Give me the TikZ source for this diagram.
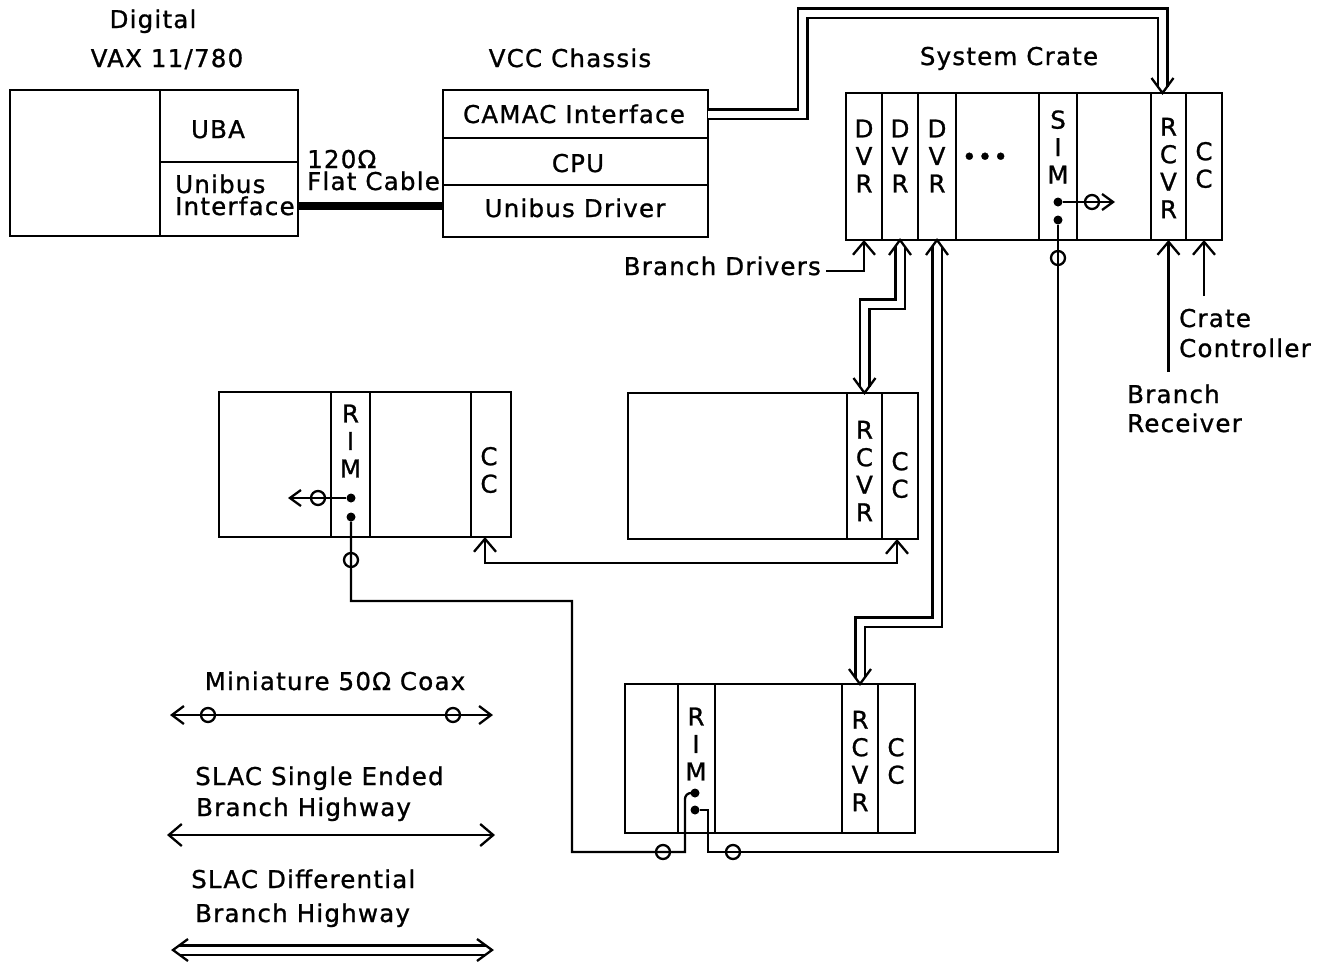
\documentclass[tikz,border=0pt]{standalone}
\usepackage{fontspec}
\setmainfont{DejaVu Sans}[LetterSpace=5,FakeBold=1]
\usetikzlibrary{arrows.meta,calc}
\newcommand\lab{\fontsize{24.5}{27.5}\selectfont}
\tikzset{
  slot/.style={draw, line width=2.4pt, inner sep=0pt, outer sep=0pt},
  wire/.style={line width=2.3pt},
  barb/.style={-{Straight Barb[length=13pt,width=22pt,line width=2.3pt]}},
  barbs/.style={{Straight Barb[length=13pt,width=22pt,line width=2.3pt]}-{Straight Barb[length=13pt,width=22pt,line width=2.3pt]}},
  sbarb/.style={-{Straight Barb[length=11pt,width=16pt,line width=2.3pt]}},
  sbarbs/.style={{Straight Barb[length=12pt,width=18pt,line width=2.3pt]}-{Straight Barb[length=12pt,width=18pt,line width=2.3pt]}},
  dbl/.style={double, double distance=7pt, line width=2.5pt},
  cable/.style={line width=8pt},
  lbl/.style={font=\lab, inner sep=0pt},
  stack/.style={font=\lab, inner sep=0pt, align=center},
  jack/.style={circle, fill, inner sep=0pt, minimum size=9pt},
  ring/.style={circle, draw, line width=2.3pt, inner sep=0pt, minimum size=14pt},
  vdown/.pic={\draw[wire] (-11,-15) -- (0,0) -- (11,-15);},
  vup/.pic={\draw[wire] (-11,15) -- (0,0) -- (11,15);},
  vleft/.pic={\draw[wire] (15,-11) -- (0,0) -- (15,11);},
  vright/.pic={\draw[wire] (-15,-11) -- (0,0) -- (-15,11);},
}
\begin{document}
\begin{tikzpicture}[x=1pt,y=-1pt]
\useasboundingbox (0,0) rectangle (1317,962);
\fill[white] (0,0) rectangle (1317,962);

% ---------------- VAX ----------------
\node[slot, minimum width=150pt, minimum height=146pt] (vaxl) at (85,163) {};
\node[slot, minimum width=138pt, minimum height=72pt] (uba) at (229,126) {};
\node[slot, minimum width=138pt, minimum height=74pt] (ubi) at (229,199) {};
\node[lbl, anchor=base] (tdig) at (153,28) {Digital};
\node[lbl, anchor=base] (tvax) at (167,67) {VAX 11/780};
\node[lbl, anchor=base] (tuba) at (218,138) {UBA};
\node[lbl, anchor=base west] (tub1) at (175,193) {Unibus};
\node[lbl, anchor=base west] (tub2) at (175,215) {Interface};
\node[lbl, anchor=base west] (tohm) at (307,168) {120Ω};
\node[lbl, anchor=base west] (tflat) at (307,190) {Flat Cable};

% ---------------- VCC ----------------
\node[slot, minimum width=265pt, minimum height=48pt] (camac) at (575.5,114) {};
\node[slot, minimum width=265pt, minimum height=47pt] (cpu) at (575.5,161.5) {};
\node[slot, minimum width=265pt, minimum height=52pt] (ubd) at (575.5,211) {};
\node[lbl, anchor=base] (tvcc) at (570,67) {VCC Chassis};
\node[lbl, anchor=base] (tcamac) at (574,123) {CAMAC Interface};
\node[lbl, anchor=base] (tcpu) at (578,172) {CPU};
\node[lbl, anchor=base] (tubd) at (575,217) {Unibus Driver};

\coordinate (cabR) at (443,206);
\draw[cable] (ubi.east |- cabR) -- (cabR);

% ---------------- System crate ----------------
\node[slot, minimum width=36pt, minimum height=147pt] (sd1) at (864,166.5) {};
\node[slot, minimum width=36pt, minimum height=147pt] (sd2) at (900,166.5) {};
\node[slot, minimum width=38pt, minimum height=147pt] (sd3) at (937,166.5) {};
\node[slot, minimum width=83pt, minimum height=147pt] (sdots) at (997.5,166.5) {};
\node[slot, minimum width=38pt, minimum height=147pt] (ssim) at (1058,166.5) {};
\node[slot, minimum width=74pt, minimum height=147pt] (sgap) at (1114,166.5) {};
\node[slot, minimum width=35pt, minimum height=147pt] (srcvr) at (1168.5,166.5) {};
\node[slot, minimum width=36pt, minimum height=147pt] (scc) at (1204,166.5) {};
\node[lbl, anchor=base] (tsys) at (1009,65) {System Crate};
\node[stack] (td1) at (864,156) {D\\V\\R};
\node[stack] (td2) at (900,156) {D\\V\\R};
\node[stack] (td3) at (937,156) {D\\V\\R};
\node[lbl] (tdots) at (985,159) {•••};
\node[stack] (tsim) at (1058,147) {S\\I\\M};
\node[stack] (tsrcvr) at (1168.5,168) {R\\C\\V\\R};
\node[stack] (tscc) at (1204,165) {C\\C};

\node[jack] (sj1) at (1058,202) {};
\node[jack] (sj2) at (1058,220) {};
\coordinate (simend) at (1115,202);
\draw[wire, sbarb] (sj1) -- (simend);
\node[ring] (sr1) at (1092,202) {};

% labels under system crate
\node[lbl, anchor=base east] (tbd) at (821,275) {Branch Drivers};
\coordinate (bdA) at (826,271);
\draw[wire, barb] (bdA) -| (sd1.south);

\coordinate (ccfree) at ($(scc.south)+(0,56)$);
\draw[wire, barb] (ccfree) -- (scc.south);
\coordinate (rcfree) at ($(srcvr.south)+(0,132)$);
\draw[wire, barb] (rcfree) -- (srcvr.south);
\node[lbl, anchor=base west] (tcr1) at (1179,327) {Crate};
\node[lbl, anchor=base west] (tcr2) at (1179,357) {Controller};
\node[lbl, anchor=base west] (tbr1) at (1127,403) {Branch};
\node[lbl, anchor=base west] (tbr2) at (1127,432) {Receiver};

% ---------------- Middle crate ----------------
\node[slot, minimum width=219pt, minimum height=146pt] (mleft) at (737.5,466) {};
\node[slot, minimum width=35pt, minimum height=146pt] (mrcvr) at (864.5,466) {};
\node[slot, minimum width=36pt, minimum height=146pt] (mcc) at (900,466) {};
\node[stack] (tmrcvr) at (864.5,471) {R\\C\\V\\R};
\node[stack] (tmcc) at (900,475) {C\\C};

% ---------------- Left crate ----------------
\node[slot, minimum width=112pt, minimum height=145pt] (la) at (275,464.5) {};
\node[slot, minimum width=39pt, minimum height=145pt] (lrim) at (350.5,464.5) {};
\node[slot, minimum width=101pt, minimum height=145pt] (lb) at (420.5,464.5) {};
\node[slot, minimum width=40pt, minimum height=145pt] (lcc) at (491,464.5) {};
\node[stack] (tlrim) at (350.5,441) {R\\I\\M};
\node[stack] (tlcc) at (489,470) {C\\C};
\node[jack] (lj1) at (351,498) {};
\node[jack] (lj2) at (351,517) {};
\coordinate (lend) at (288,498);
\draw[wire, sbarb] (lj1) -- (lend);
\node[ring] (lr1) at (318,498) {};

% ---------------- Bottom crate ----------------
\node[slot, minimum width=53pt, minimum height=149pt] (ba) at (651.5,758.5) {};
\node[slot, minimum width=37pt, minimum height=149pt] (brim) at (696.5,758.5) {};
\node[slot, minimum width=127pt, minimum height=149pt] (bb) at (778.5,758.5) {};
\node[slot, minimum width=36pt, minimum height=149pt] (brcvr) at (860,758.5) {};
\node[slot, minimum width=37pt, minimum height=149pt] (bcc) at (896.5,758.5) {};
\node[stack] (tbrim) at (696,744) {R\\I\\M};
\node[stack] (tbrcvr) at (860,761) {R\\C\\V\\R};
\node[stack] (tbcc) at (896,761) {C\\C};
\node[jack] (bj1) at (695,793) {};
\node[jack] (bj2) at (695,810) {};

% ---------------- Differential branch highways ----------------
\coordinate (tipS) at ($(srcvr.north)+(-6,0)$);
\draw[dbl, shorten >=6pt] (camac.east) -- (802.5,114) -- (802.5,13) -| (tipS);
\pic at (tipS) {vdown};

\draw[dbl, shorten <=6pt, shorten >=6pt] (sd2.south) -- ++(0,64) -| (mrcvr.north);
\pic at (sd2.south) {vup};
\pic at (mrcvr.north) {vdown};

\draw[dbl, shorten <=6pt, shorten >=6pt] (sd3.south) -- ++(0,382) -| (brcvr.north);
\pic at (sd3.south) {vup};
\pic at (brcvr.north) {vdown};

% ---------------- Single ended branch highway ----------------
\coordinate (mtip) at ($(mcc.south)+(-3,0)$);
\coordinate (ltip) at ($(lcc.south)+(-6,0)$);
\draw[wire, barbs] (mtip) -- ++(0,24) -| (ltip);

% ---------------- Coax ----------------
\coordinate (c1) at (1058,852);
\coordinate (c2) at (708,852);
\draw[wire] (sj2) -- (c1) -- (c2) |- (bj2);
\node[ring] (sr2) at (1058,258) {};
\node[ring] (br2) at (733,852) {};

\coordinate (d1) at (351,601);
\coordinate (d2) at (572,601);
\coordinate (d3) at (572,852);
\coordinate (d4) at (685,852);
\draw[wire] (lj2) -- (d1) -- (d2) -- (d3) -- (d4) [rounded corners=6pt] |- (bj1);
\node[ring] (lr2) at (351,560) {};
\node[ring] (br1) at (663,852) {};

% ---------------- Legend ----------------
\node[lbl, anchor=base] (tleg1) at (335,690) {Miniature 50Ω Coax};
\coordinate (la1) at (170,715);
\coordinate (la2) at (493,715);
\draw[wire, sbarbs] (la1) -- (la2);
\node[ring] (lgr1) at (208,715) {};
\node[ring] (lgr2) at (453,715) {};

\node[lbl, anchor=base west] (tleg2) at (195,785) {SLAC Single Ended};
\node[lbl, anchor=base west] (tleg3) at (196,816) {Branch Highway};
\coordinate (lb1) at (167,835);
\coordinate (lb2) at (495,835);
\draw[wire, barbs] (lb1) -- (lb2);

\node[lbl, anchor=base west] (tleg4) at (191,888) {SLAC Differential};
\node[lbl, anchor=base west] (tleg5) at (195,922) {Branch Highway};
\coordinate (lc1) at (173,950);
\coordinate (lc2) at (492,950);
\draw[dbl, shorten <=6pt, shorten >=6pt] (lc1) -- (lc2);
\pic at (lc1) {vleft};
\pic at (lc2) {vright};
\end{tikzpicture}
\end{document}
